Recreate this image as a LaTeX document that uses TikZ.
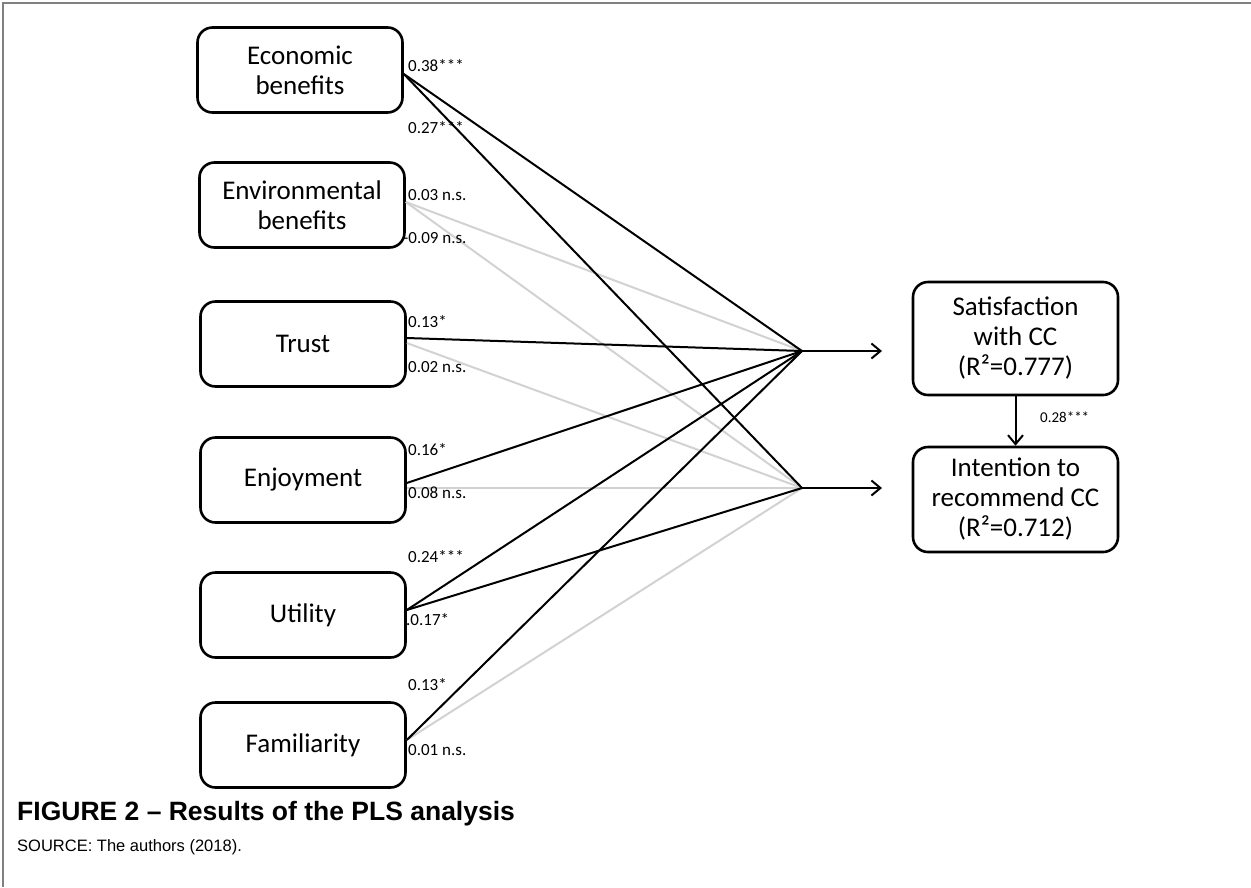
\documentclass[tikz,border=0pt]{standalone}
\usepackage{fontspec}
\setmainfont{Carlito}
\newfontfamily\arialf{Liberation Sans}
\usetikzlibrary{arrows.meta}
\definecolor{lgray}{RGB}{210,210,210}
\definecolor{frame}{RGB}{128,128,128}
\begin{document}
\begin{tikzpicture}[x=1pt,y=-1pt,
  box/.style={draw, line width=2.6pt, rounded corners=15pt, minimum width=205pt, minimum height=85pt, align=center, inner sep=0pt, font=\fontsize{27}{30}\selectfont},
  rbox/.style={box, minimum height=110pt},
  sig/.style={line width=2pt, black},
  ns/.style={line width=2pt, lgray},
  lab/.style={anchor=west, inner sep=0pt, font=\fontsize{17}{20}\selectfont},
  arr/.style={line width=2pt, -{Straight Barb[length=9pt,width=15pt,line width=2pt]}}]
\useasboundingbox (0,0) rectangle (1251,887);
\draw[frame, line width=2pt] (3,887) -- (3,3) -- (1251,3);

% left boxes
\node[box] (eco) at (300,70) {Economic\\benefits};
\node[box] (env) at (302,205) {Environmental\\benefits};
\node[box] (tru) at (303,344) {Trust};
\node[box] (enj) at (303,480) {Enjoyment};
\node[box] (uti) at (303,615) {Utility};
\node[box] (fam) at (303,745) {Familiarity};

% right boxes
\node[rbox, minimum height=113pt] (sat) at (1015.5,338.5) {Satisfaction\\with CC\\(R²=0.777)};
\node[rbox, minimum height=105pt] (int) at (1015.5,499.5) {Intention to\\recommend CC\\(R²=0.712)};

% junctions
\coordinate (j1) at (802,351);
\coordinate (j2) at (802,488);
\coordinate (a1) at (882,351);
\coordinate (a2) at (882,488);

% non-significant paths (gray)
\draw[ns] ([yshift=3pt]env.east) -- (j1);
\draw[ns] ([yshift=3pt]env.east) -- (j2);
\draw[ns] ([yshift=1pt]tru.east) -- (j2);
\draw[ns] ([yshift=-8pt]enj.east) -- (j2);
\draw[ns] ([yshift=5pt]fam.east) -- (j2);

% significant paths (black)
\draw[sig] ([yshift=-4pt]eco.east) -- (j1);
\draw[sig] ([yshift=-4pt]eco.east) -- (j2);
\draw[sig] ([yshift=6pt]tru.east) -- (j1);
\draw[sig] ([yshift=-3pt]enj.east) -- (j1);
\draw[sig] ([yshift=5pt]uti.east) -- (j1);
\draw[sig] ([yshift=5pt]uti.east) -- (j2);
\draw[sig] ([yshift=5pt]fam.east) -- (j1);

% arrows
\draw[arr] (j1) -- (a1);
\draw[arr] (j2) -- (a2);
\draw[arr] (sat) -- (int);

% labels
\node[lab] (l1) at (408,66) {0.38***};
\node[lab] (l2) at (408,128) {0.27***};
\node[lab] (l3) at (408,195) {0.03 n.s.};
\node[lab] (l4) at (403,238) {-0.09 n.s.};
\node[lab] (l5) at (408,322) {0.13*};
\node[lab] (l6) at (408,367) {0.02 n.s.};
\node[lab] (l7) at (408,450) {0.16*};
\node[lab] (l8) at (408,493) {0.08 n.s.};
\node[lab] (l9) at (408,557) {0.24***};
\node[lab] (l10) at (406,620) {.0.17*};
\node[lab] (l11) at (408,685) {0.13*};
\node[lab] (l12) at (408,750) {0.01 n.s.};
\node[lab, font=\fontsize{15}{18}\selectfont] (l13) at (1040,417) {0.28***};

% caption
\node[anchor=base west, inner sep=0pt, font=\arialf\bfseries\fontsize{26.5}{30}\selectfont] (cap) at (17,820) {FIGURE 2 – Results of the PLS analysis};
\node[anchor=base west, inner sep=0pt, font=\arialf\fontsize{16.5}{20}\selectfont] (src) at (17,851) {SOURCE: The authors (2018).};
\end{tikzpicture}
\end{document}
